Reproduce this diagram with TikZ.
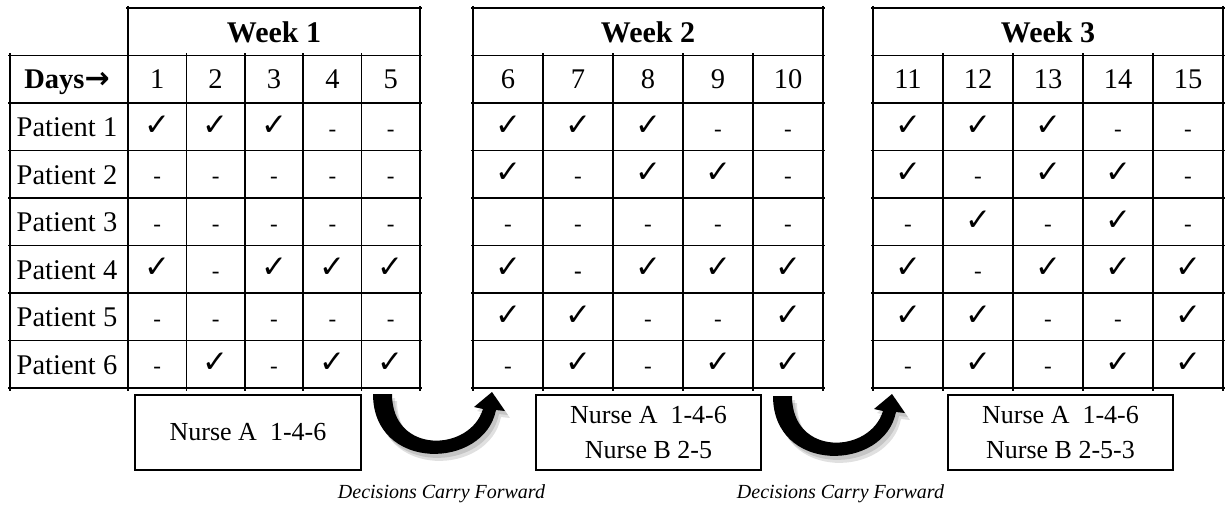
\documentclass[tikz,border=0pt]{standalone}
\usepackage{fontspec}
\setmainfont{Liberation Serif}
\newfontfamily\symfont{DejaVu Sans}
\newcommand\ckmk{{\symfont\bfseries ✓}}
\newcommand\carryshape{(373,394) .. controls (373,472) and (484,470) .. (496,410) -- (505,411) -- (492,392) -- (474,407) -- (483,409) .. controls (470,452) and (392,455) .. (392,394) -- cycle}
\newcommand\weekgrid[4]{%
  \pgfmathsetmacro\xe{#1+5*#2}
  \draw[gridline] ({#1-2},8) -- ({\xe+2},8);
  \draw[gridline] (#1,6) -- (#1,391);
  \draw[gridline] (\xe,6) -- (\xe,391);
  \foreach \r in {1,...,8} \draw[gridline] ({#1-2},{8+47.5*\r}) -- ({\xe+2},{8+47.5*\r});
  \foreach \c in {1,...,4} \draw[gridline] ({#1+\c*#2},53.5) -- ({#1+\c*#2},391);
  \node[weekhead] (week#3) at ({#1+2.5*#2},42.5) {Week #3};
  \foreach \c [evaluate=\c as \dn using int(#4+\c)] in {0,...,4}
    \node[txt] (day\dn) at ({#1+(\c+0.5)*#2},89) {\dn};
}
\begin{document}
\begin{tikzpicture}[x=1pt,y=-1pt,
  gridline/.style={line width=1.5pt},
  txt/.style={inner sep=0pt, anchor=base, font=\fontsize{28.5}{32}\selectfont},
  dashstyle/.style={inner sep=0pt, anchor=base, font=\fontsize{23}{26}\selectfont},
  ckstyle/.style={inner sep=0pt, font=\fontsize{31}{34}\selectfont},
  weekhead/.style={inner sep=0pt, anchor=base, font=\fontsize{30}{34}\selectfont\bfseries},
  nursebox/.style={draw, line width=1.3pt, minimum width=226pt, minimum height=75pt, align=center, font=\fontsize{26}{34.5}\selectfont, inner sep=0pt},
  carry/.style={font=\fontsize{20}{24}\selectfont\itshape, inner sep=0pt, anchor=base},
  bigarrow/.style={fill=black},
  arrowshadow/.style={fill=black, opacity=0.12}]
\useasboundingbox (0,0) rectangle (1225,508);
% label column of week 1
\draw[gridline] (10,53.5) -- (10,391);
\foreach \r in {1,...,8} \draw[gridline] (8,{8+47.5*\r}) -- (128,{8+47.5*\r});
\node[txt] (days) at (67,89) {\textbf{Days}{\symfont\bfseries\fontsize{30}{32}\selectfont →}};
\foreach \p in {1,...,6} \node[txt] (pat\p) at (67,{18+47.5*(\p+1.5)}) {Patient \p};
% week grids
\weekgrid{128}{58.4}{1}{1}
\weekgrid{473}{70}{2}{6}
\weekgrid{873}{70}{3}{11}
% cell contents
\foreach \p/\row in {
  1/{1,1,1,0,0,1,1,1,0,0,1,1,1,0,0},
  2/{0,0,0,0,0,1,0,1,1,0,1,0,1,1,0},
  3/{0,0,0,0,0,0,0,0,0,0,0,1,0,1,0},
  4/{1,0,1,1,1,1,2,1,1,1,1,0,1,1,1},
  5/{0,0,0,0,0,1,1,0,0,1,1,1,0,0,1},
  6/{0,1,0,1,1,0,1,0,1,1,0,1,0,1,1}}{
  \foreach \v [count=\d] in \row {
    \pgfmathsetmacro\xc{\d<6 ? 128+58.4*(\d-0.5) : (\d<11 ? 473+70*(\d-5.5) : 873+70*(\d-10.5))}
    \ifnum\v=1
      \node[ckstyle] (c\p-\d) at (\xc,{6.5+47.5*(\p+1.5)}) {\ckmk};
    \else\ifnum\v=2
      \node[dashstyle] (c\p-\d) at (\xc,{17.5+47.5*(\p+1.5)}) {\textbf{-}};
    \else
      \node[dashstyle] (c\p-\d) at (\xc,{17.5+47.5*(\p+1.5)}) {-};
    \fi\fi
  }
}
% nurse boxes
\node[nursebox] (nurse1) at (248,432.5) {Nurse A\ \ 1-4-6};
\node[nursebox, minimum width=225pt] (nurse2) at (648.5,432.5) {Nurse A\ \ 1-4-6\\Nurse B 2-5};
\node[nursebox, minimum width=225pt] (nurse3) at (1060.5,432.5) {Nurse A\ \ 1-4-6\\Nurse B 2-5-3};
% carry-forward arrows
\foreach \dx/\dy in {0/0, 400/2}{
  \begin{scope}[shift={(\dx,\dy)}]
    \fill[arrowshadow, shift={(5,7)}] \carryshape;
    \fill[arrowshadow, shift={(3,4)}] \carryshape;
    \fill[bigarrow] \carryshape;
  \end{scope}
}
\node[carry] (dcf1) at (441.5,498) {Decisions Carry Forward};
\node[carry] (dcf2) at (840.5,498) {Decisions Carry Forward};
\end{tikzpicture}
\end{document}
